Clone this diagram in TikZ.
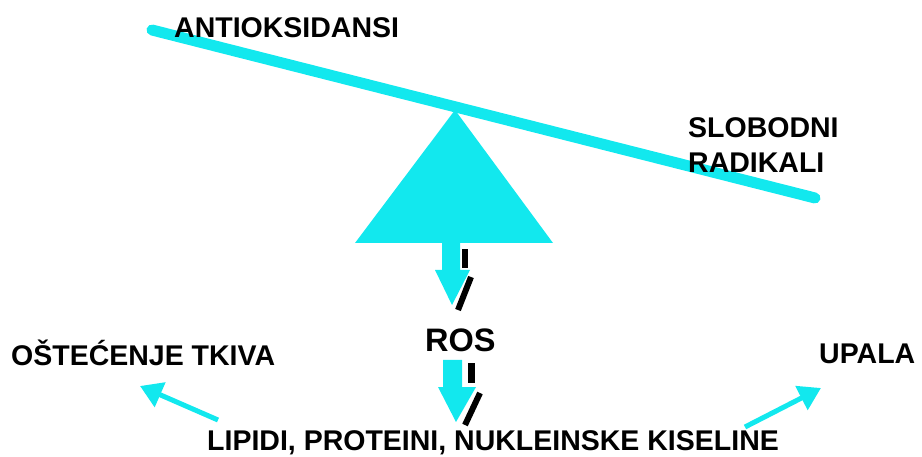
\documentclass[tikz,border=0pt]{standalone}
\usepackage{fontspec}
\setmainfont{Liberation Sans}
\usetikzlibrary{arrows.meta}
\definecolor{aqua}{RGB}{18,232,238}
\tikzset{
  lbl/.style={inner sep=0pt, anchor=base west, font=\fontsize{28.5}{34}\selectfont\bfseries, text=black},
  bigl/.style={inner sep=0pt, anchor=base west, font=\fontsize{32.5}{38}\selectfont\bfseries, text=black},
  smallarrow/.style={draw=aqua, line width=5pt, -{Triangle[length=22pt,width=26pt]}},
  shadowbar/.style={draw=black, line width=6pt},
}
\begin{document}
\begin{tikzpicture}[x=1pt,y=-1pt]
\useasboundingbox (0,0) rectangle (922,457);
% beam and fulcrum
\draw[aqua, line width=11pt, line cap=round] (152,30) -- (815,198);
\fill[aqua] (455,110) -- (355,243) -- (553,243) -- cycle;
% arrow 1
\fill[aqua] (442,243) -- (460,243) -- (460,270) -- (470,270) -- (452,305) -- (435,270) -- (442,270) -- cycle;
\fill[black] (462,249) rectangle (468,268);
\draw[shadowbar] (471,277) -- (458,310);
% arrow 2
\fill[aqua] (443,360) -- (462,360) -- (462,387) -- (476,387) -- (456,422) -- (438,387) -- (443,387) -- cycle;
\fill[black] (468,363) rectangle (475,383);
\draw[shadowbar] (480,393) -- (465,425);
% texts
\node[lbl] (anti) at (174,38) {ANTIOKSIDANSI};
\node[lbl] (slob) at (688,138) {SLOBODNI};
\node[lbl] (radi) at (688,173) {RADIKALI};
\node[bigl] (ros) at (425,352) {ROS};
\node[lbl] (ost) at (11,366) {OŠTEĆENJE TKIVA};
\node[lbl] (upala) at (819,363) {UPALA};
\node[lbl] (lip) at (207,450) {LIPIDI, PROTEINI, NUKLEINSKE KISELINE};
% small arrows
\coordinate (lt) at (218,420);
\coordinate (lh) at (140,386);
\coordinate (rt) at (745,427);
\coordinate (rh) at (821,388);
\draw[smallarrow] (lt) -- (lh);
\draw[smallarrow] (rt) -- (rh);
\end{tikzpicture}
\end{document}
